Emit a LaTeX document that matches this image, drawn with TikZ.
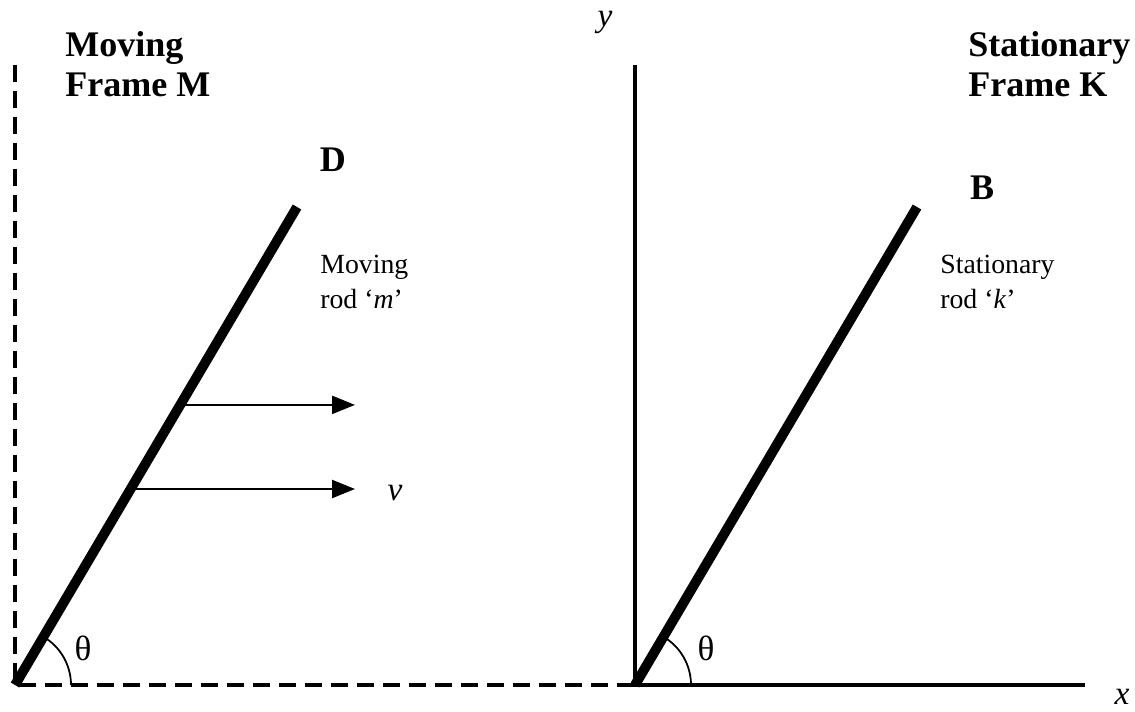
\documentclass[tikz,border=0pt]{standalone}
\usepackage{fontspec}
\setmainfont{Liberation Serif}
\usetikzlibrary{positioning, calc, arrows.meta}
\newcommand{\framefont}{\fontsize{20.5}{22.7}\selectfont\bfseries}
\newcommand{\rodfont}{\fontsize{15.8}{19.8}\selectfont}
\newcommand{\axisfont}{\fontsize{19}{22}\selectfont\itshape}

\begin{document}
\begin{tikzpicture}[
  rod/.style={line width=5.6pt},
  axisline/.style={line width=2.1pt},
  push/.style={line width=1.3pt, -{Triangle[length=0.46cm, width=0.36cm]}},
  angle/.style={line width=1pt}]
  \useasboundingbox (0,0) rectangle (22.7,14.24);
  \coordinate (O1) at (0.30,0.54);
  \coordinate (T1) at (0.30,12.94);
  \coordinate (D1) at (5.94,10.10);
  \coordinate (O2) at (12.70,0.54);
  \coordinate (T2) at (12.70,12.94);
  \coordinate (X2) at (21.70,0.54);
  \coordinate (B2) at (18.34,10.10);
  % moving frame M
  \draw[axisline, dash pattern=on 0.34cm off 0.18cm] (T1) -- (O1) -- (O2);
  \draw[rod] (O1) -- (D1);
  \draw[angle] ($(O1)+(1.12,0)$) arc[start angle=0, end angle=59.5, radius=1.12];
  \coordinate (P1) at ($(O1)!0.586!(D1)$);
  \coordinate (P2) at ($(O1)!0.41!(D1)$);
  \coordinate (tip) at (7.10,0);
  \draw[push] (P1) -- (P1 -| tip);
  \draw[push] (P2) -- (P2 -| tip);
  \node[font=\framefont, align=left, anchor=north west, inner sep=0pt] (M) at (1.30,13.62)
    {Moving\\Frame M};
  \node[font=\framefont, inner sep=0pt] (D) at (6.66,11.04) {D};
  \node[font=\rodfont, align=left, anchor=north west, inner sep=0pt] (RM) at (6.40,9.14)
    {Moving\\rod `\textit{m}'};
  \node[font=\axisfont, inner sep=0pt] (V) at (7.90,4.38) {v};
  \node[font=\fontsize{20}{22}\selectfont, inner sep=0pt] (TH1) at (1.66,1.28) {θ};
  % stationary frame K
  \draw[axisline] (T2) -- (O2) -- (X2);
  \draw[rod] (O2) -- (B2);
  \draw[angle] ($(O2)+(1.12,0)$) arc[start angle=0, end angle=59.5, radius=1.12];
  \node[font=\framefont, align=left, anchor=north west, inner sep=0pt] (K) at (19.36,13.62)
    {Stationary\\Frame K};
  \node[font=\framefont, inner sep=0pt] (B) at (19.64,10.48) {B};
  \node[font=\rodfont, align=left, anchor=north west, inner sep=0pt] (RK) at (18.80,9.14)
    {Stationary\\rod `\textit{k}'};
  \node[font=\axisfont, inner sep=0pt] (Y) at (12.10,13.80) {y};
  \node[font=\axisfont, inner sep=0pt] (X) at (22.44,0.30) {x};
  \node[font=\fontsize{20}{22}\selectfont, inner sep=0pt] (TH2) at (14.12,1.28) {θ};
\end{tikzpicture}
\end{document}
